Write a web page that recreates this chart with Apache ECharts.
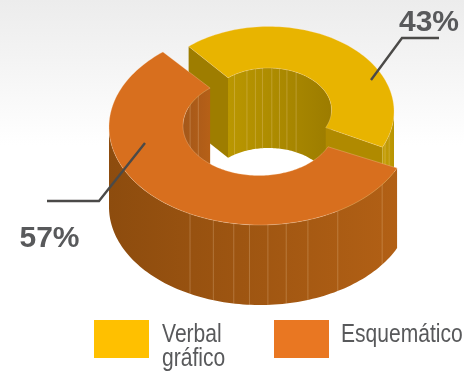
<!DOCTYPE html>
<html>
<head>
<meta charset="utf-8">
<style>html,body{margin:0;padding:0;background:#fff;overflow:hidden}#c{width:464px;height:375px}</style>
<script src="https://cdn.jsdelivr.net/npm/echarts@6/dist/echarts.min.js"></script>
</head>
<body>
<div id="c"></div>
<script>
var categories = ['Verbal\ngráfico', 'Esquemático'];
var verbalValues = [43];
var esquematicoValues = [57];

var total = verbalValues[0] + esquematicoValues[0];
var START = -24.8, DEPTH = 80;

var YELLOW = {
  cx: 269, cy: 111.5, rx: 125, ry: 85, ix: 63, iy: 42, icx: 268.5, icy: 110,
  dir: 1,
  top: '#E8B400',
  wallOuter: ['#C49E08', '#B89400'],
  wallInner: ['#BA9700', '#9C7C00'],
  seamsOuter: [-21.8, -16],
  seamsInner: [122.7, 110, 102, 95.5, 87, 80, 73, 64],
  endFace: '#9E7D00', startFace: '#B08A00',
  leader: [[371, 80], [402, 38], [439, 38]],
  label: [429, 23]
};
var ORANGE = {
  cx: 260, cy: 127, rx: 151, ry: 98, ix: 76, iy: 49.5, icx: 259, icy: 126,
  dir: -1,
  top: '#D86F1E',
  wallOuter: ['#8D4C0E', '#B26015'],
  wallInner: ['#A4581A', '#B66017'],
  seamsOuter: [-117.6, -108, -100, -94, -87, -80, -71.5, -59, -36],
  seamsInner: [155, 143],
  leader: [[145, 143], [99, 201], [47, 201]],
  label: [49.5, 238.5]
};

function ell(cx, cy, rx, ry, deg, dy) {
  var t = deg * Math.PI / 180;
  return [cx + rx * Math.cos(t), cy - ry * Math.sin(t) + (dy || 0)];
}
function arc(cx, cy, rx, ry, from, to, dy) {
  var out = [], n = Math.max(2, Math.ceil(Math.abs(to - from) / 1.5));
  for (var i = 0; i <= n; i++) out.push(ell(cx, cy, rx, ry, from + (to - from) * i / n, dy));
  return out;
}
function poly(points, fill, extra) {
  var style = { fill: fill };
  for (var k in (extra || {})) style[k] = extra[k];
  return { type: 'polygon', shape: { points: points }, style: style, silent: true };
}
function hGrad(c) {
  return new echarts.graphic.LinearGradient(0, 0, 1, 0, [{ offset: 0, color: c[0] }, { offset: 1, color: c[1] }]);
}
function wall(cx, cy, rx, ry, a, b, colors) {
  return poly(arc(cx, cy, rx, ry, a, b, 0).concat(arc(cx, cy, rx, ry, b, a, DEPTH)), hGrad(colors));
}
function seam(cx, cy, rx, ry, a) {
  var p = ell(cx, cy, rx, ry, a, 0);
  return { type: 'line', shape: { x1: p[0], y1: p[1], x2: p[0], y2: p[1] + DEPTH },
    style: { stroke: 'rgba(255,226,190,0.24)', lineWidth: 1 }, silent: true };
}

function renderSlice(g) {
  return function (params, api) {
    var value = api.value(0);
    var end = START + g.dir * value / total * 360;
    var kids = [];
    var a = ell(g.cx, g.cy, g.rx, g.ry, START), b = ell(g.icx, g.icy, g.ix, g.iy, START);
    var c = ell(g.cx, g.cy, g.rx, g.ry, end), d = ell(g.icx, g.icy, g.ix, g.iy, end);

    if (g.dir > 0) {
      kids.push(wall(g.icx, g.icy, g.ix, g.iy, 0, end, g.wallInner));
      g.seamsInner.forEach(function (s) { kids.push(seam(g.icx, g.icy, g.ix, g.iy, s)); });
      kids.push(poly([c, d, [d[0], d[1] + DEPTH], [c[0], c[1] + DEPTH]], g.endFace));
      kids.push(poly([a, b, [b[0], b[1] + DEPTH], [a[0], a[1] + DEPTH]], g.startFace));
      kids.push(wall(g.cx, g.cy, g.rx, g.ry, START, 0, g.wallOuter));
      g.seamsOuter.forEach(function (s) { kids.push(seam(g.cx, g.cy, g.rx, g.ry, s)); });
    } else {
      kids.push(wall(g.icx, g.icy, g.ix, g.iy, end + 360, 180, g.wallInner));
      g.seamsInner.forEach(function (s) { kids.push(seam(g.icx, g.icy, g.ix, g.iy, s)); });
      kids.push(wall(g.cx, g.cy, g.rx, g.ry, -180, START, g.wallOuter));
      g.seamsOuter.forEach(function (s) { kids.push(seam(g.cx, g.cy, g.rx, g.ry, s)); });
    }
    kids.push(poly(arc(g.cx, g.cy, g.rx, g.ry, START, end).concat(arc(g.icx, g.icy, g.ix, g.iy, end, START)),
      g.top, { stroke: 'rgba(255,225,190,0.45)', lineWidth: 0.6 }));
    kids.push({ type: 'polyline', shape: { points: g.leader }, silent: true,
      style: { stroke: '#4B4A48', lineWidth: 2.4, fill: null } });
    kids.push({ type: 'text', silent: true, style: {
      x: g.label[0], y: g.label[1], text: value + '%', align: 'center', verticalAlign: 'middle',
      fill: '#58595B', font: 'bold 30px "Liberation Sans", Arial, sans-serif' } });
    return { type: 'group', children: kids };
  };
}

function legendText(name, x) {
  return {
    type: 'text', silent: true, x: x, y: 323, scaleX: 0.81,
    style: { text: name, fill: '#58595B', lineHeight: 24, verticalAlign: 'top',
      font: '26px "Liberation Sans", Arial, sans-serif' }
  };
}

var chart = echarts.init(document.getElementById('c'), null, { renderer: 'canvas', width: 464, height: 375 });
chart.setOption({
  animation: false,
  backgroundColor: '#fff',
  graphic: [{
    type: 'rect', z: -10, silent: true,
    shape: { x: 0, y: 0, width: 464, height: 145 },
    style: { fill: new echarts.graphic.LinearGradient(0, 0, 0, 1, [
      { offset: 0, color: '#ECECEC' }, { offset: 1, color: '#FFFFFF' }]) }
  }, legendText(categories[0], 162), legendText(categories[1], 341)],
  legend: {
    data: categories,
    left: 94, top: 320, padding: 0,
    width: 600,
    orient: 'horizontal',
    itemWidth: 55, itemHeight: 38, itemGap: 125,
    icon: 'rect',
    selectedMode: false,
    formatter: function () { return ''; }
  },
  series: [
    { type: 'custom', name: categories[0], coordinateSystem: 'none', silent: true,
      itemStyle: { color: '#FFC000' }, data: verbalValues, renderItem: renderSlice(YELLOW) },
    { type: 'custom', name: categories[1], coordinateSystem: 'none', silent: true,
      itemStyle: { color: '#E97722' }, data: esquematicoValues, renderItem: renderSlice(ORANGE) }
  ]
});
</script>
</body>
</html>
